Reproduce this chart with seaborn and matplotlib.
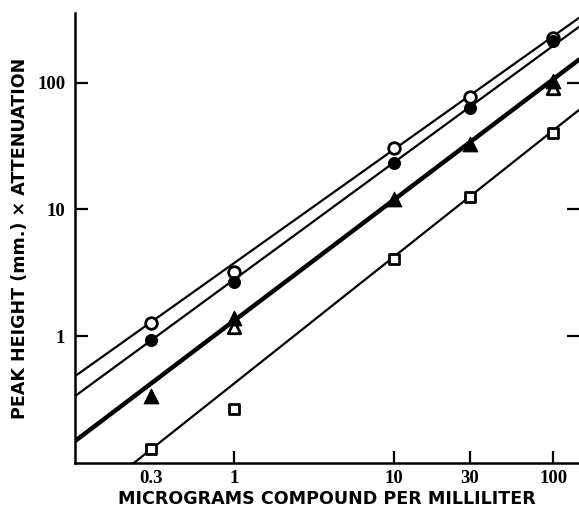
# plot.py
# Log-log calibration chart: peak height x attenuation vs. concentration
import numpy as np
import pandas as pd
import matplotlib
matplotlib.use("Agg")
import matplotlib.pyplot as plt
import seaborn as sns

# ── Data ────────────────────────────────────────────────
conc          = [0.3, 1, 10, 30, 100]
open_circles  = [1.27, 3.2, 30.8, 77.6, 224]
filled_circ   = [0.93, 2.66, 23.4, 63.6, 215]
filled_tri    = [0.34, 1.4, 12.0, 32.6, 103]
open_tri_x    = [1, 100]
open_tri      = [1.18, 91.5]
squares       = [0.129, 0.266, 4.1, 12.6, 40.4]

# fitted lines (end points read at the plot edges)
line_x        = [0.1, 145]
line_open     = [0.484, 325]
line_filled   = [0.337, 276]
line_tri      = [0.149, 152]
sq_line_x     = [0.234, 145]
sq_line_y     = [0.1, 61]

xticks        = [0.3, 1, 10, 30, 100]
xticklabels   = ["0.3", "1", "10", "30", "100"]
yticks        = [1, 10, 100]
yticklabels   = ["1", "10", "100"]

# ── Figure ──────────────────────────────────────────────
sns.set_style("ticks")
plt.rcParams['font.family'] = ['DejaVu Sans']
plt.rcParams['text.color'] = 'black'
plt.rcParams['axes.labelcolor'] = 'black'
plt.rcParams['xtick.color'] = 'black'
plt.rcParams['ytick.color'] = 'black'

fig = plt.figure(figsize=(5.79, 5.11), dpi=100)
ax = fig.add_axes([75/579, 48/511, 504/579, 450/511])

# lines
sns.lineplot(x=line_x, y=line_open, color="black", lw=1.6, ax=ax)
sns.lineplot(x=line_x, y=line_filled, color="black", lw=1.6, ax=ax)
sns.lineplot(x=line_x, y=line_tri, color="black", lw=3.2, ax=ax)
sns.lineplot(x=sq_line_x, y=sq_line_y, color="black", lw=1.6, ax=ax)

# markers
sns.scatterplot(x=conc, y=open_circles, marker="o", s=70,
                facecolor="white", edgecolor="black", linewidth=2,
                ax=ax, zorder=3)
sns.scatterplot(x=conc, y=filled_circ, marker="o", s=75,
                color="black", edgecolor="black", ax=ax, zorder=4)
sns.scatterplot(x=open_tri_x, y=open_tri, marker="^", s=80,
                facecolor="white", edgecolor="black", linewidth=2,
                ax=ax, zorder=3)
sns.scatterplot(x=conc, y=filled_tri, marker="^", s=110,
                color="black", edgecolor="black", ax=ax, zorder=4)
sns.scatterplot(x=conc, y=squares, marker="s", s=60,
                facecolor="white", edgecolor="black", linewidth=2,
                ax=ax, zorder=3)

ax.set_xscale("log")
ax.set_yscale("log")
ax.set_xlim(0.1, 145)
ax.set_ylim(0.1, 355)

ax.minorticks_off()
ax.set_xticks(xticks)
ax.set_xticklabels(xticklabels)
ax.set_yticks(yticks)
ax.set_yticklabels(yticklabels)

# no tick mark under the 0.3 label
ax.xaxis.get_major_ticks()[0].tick1line.set_visible(False)

tick_font = dict(family="Liberation Serif", weight="bold", size=13.5)
for lab in ax.get_xticklabels() + ax.get_yticklabels():
    lab.set_fontproperties(tick_font)
    lab.set_color("black")

ax.tick_params(axis="both", direction="in", length=9, width=1.6,
               color="black")
ax.tick_params(axis="x", pad=5)
ax.tick_params(axis="y", pad=7, right=True)

sns.despine(ax=ax, top=True, right=True)
for side in ["left", "bottom"]:
    ax.spines[side].set_linewidth(1.8)
    ax.spines[side].set_color("black")

ax.set_xlabel("MICROGRAMS COMPOUND PER MILLILITER", fontsize=12.6,
              fontweight="bold", labelpad=2, color="black")
ax.set_ylabel("PEAK HEIGHT (mm.) × ATTENUATION", fontsize=12.6,
              fontweight="bold", labelpad=6, color="black")

fig.savefig("out.png", dpi=100)
